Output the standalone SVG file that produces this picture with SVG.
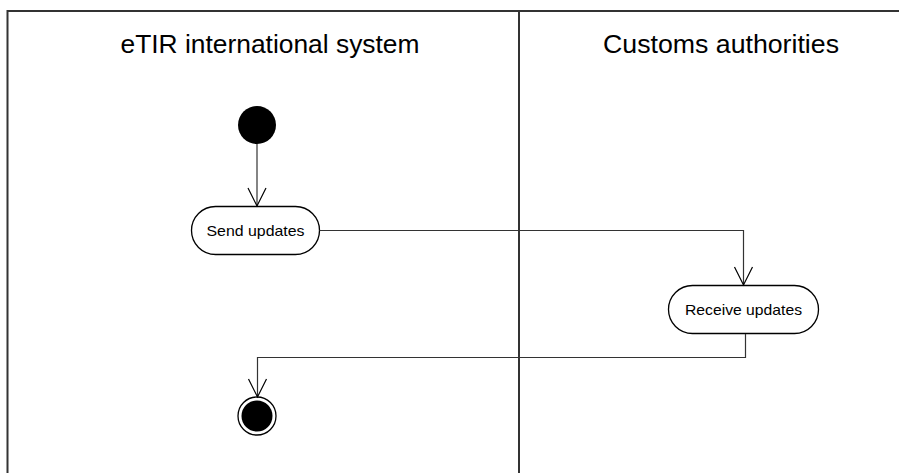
<svg xmlns="http://www.w3.org/2000/svg" width="899" height="473" viewBox="0 0 899 473">
<defs>
<style>
.frame{fill:none;stroke:#333;stroke-width:2}
.node{fill:#fff;stroke:#000;stroke-width:1.3}
.lbl{font-family:"Liberation Sans",Arial,sans-serif;font-size:15px;fill:#000;text-anchor:middle}
.title{font-family:"Liberation Sans",Arial,sans-serif;font-size:25px;fill:#000;text-anchor:middle}
.conn{fill:none;stroke:#333;stroke-width:1.2}
.arr{fill:none;stroke:#000;stroke-width:1.2}
</style>
</defs>
<rect width="899" height="473" fill="#fff"/>
<g id="swimlanes">
<path class="frame" d="M7.5,473 V11 H899"/>
<line class="frame" x1="519" y1="11" x2="519" y2="473"/>
<text class="title" x="270" y="53" textLength="299" lengthAdjust="spacingAndGlyphs">eTIR international system</text>
<text class="title" x="721" y="53" textLength="236" lengthAdjust="spacingAndGlyphs">Customs authorities</text>
</g>
<g id="start">
<circle cx="257" cy="125" r="19" fill="#000"/>
</g>
<g id="send">
<rect class="node" x="191.5" y="206.5" width="128" height="48" rx="24"/>
<text class="lbl" x="255.5" y="236" textLength="98" lengthAdjust="spacingAndGlyphs">Send updates</text>
</g>
<g id="receive">
<rect class="node" x="668.5" y="285.5" width="150" height="48" rx="24"/>
<text class="lbl" x="743.5" y="315" textLength="117" lengthAdjust="spacingAndGlyphs">Receive updates</text>
</g>
<g id="end">
<circle cx="257" cy="416" r="19" fill="#fff" stroke="#000" stroke-width="1.3"/>
<circle cx="257" cy="416" r="15.5" fill="#000"/>
</g>
<g id="connectors">
<path class="conn" d="M257,144 V206"/>
<path class="arr" d="M248,188 L257,206 L266,188"/>
<path class="conn" d="M319.5,230.5 H743.5 V285"/>
<path class="arr" d="M734.5,267 L743.5,285 L752.5,267"/>
<path class="conn" d="M745.5,334 V357.5 H257.5 V397"/>
<path class="arr" d="M248.5,379 L257.5,397 L266.5,379"/>
</g>
</svg>
